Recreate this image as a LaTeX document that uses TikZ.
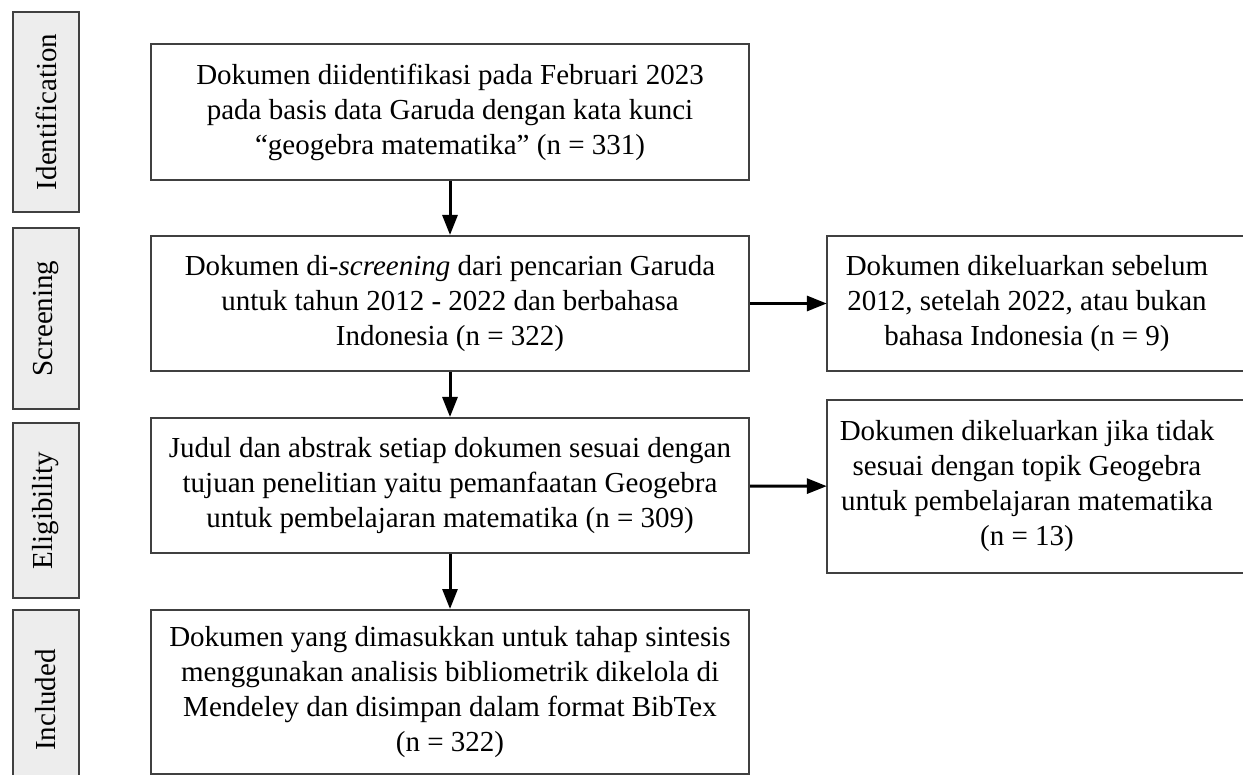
\documentclass[tikz,border=0pt]{standalone}
\usepackage{fontspec}
\setmainfont{Liberation Serif}
\usetikzlibrary{arrows.meta}
\definecolor{garis}{HTML}{404040}
\definecolor{abu}{HTML}{EDEDED}

\begin{document}
\begin{tikzpicture}[x=1pt, y=-1pt,
    teks/.style={font=\fontsize{29}{35}\selectfont},
    kotak/.style={teks, draw=garis, line width=2pt, minimum width=598pt, align=center, inner sep=0pt},
    keluar/.style={teks, minimum width=400pt, align=center, inner sep=0pt},
    bingkai/.style={draw=garis, line width=2pt},
    fase/.style={teks, draw=garis, fill=abu, line width=2pt, rotate=90, minimum height=66pt, inner sep=0pt},
    panah/.style={-{Triangle[length=20pt, width=15pt]}, line width=3pt}]
    \useasboundingbox (0,0) rectangle (1243,775);
    \clip (0,0) rectangle (1243,775);

    % Fase PRISMA
    \node[fase, minimum width=200pt] (faseId) at (46,112) {Identification};
    \node[fase, minimum width=181pt] (faseSc) at (46,318.5) {Screening};
    \node[fase, minimum width=175pt] (faseEl) at (46,510.5) {Eligibility};
    \node[fase, minimum width=180pt] (faseIn) at (46,700) {Included};

    % Kotak utama
    \node[kotak, minimum height=136pt] (dokA) at (450,112)
        {Dokumen diidentifikasi pada Februari 2023\\pada basis data Garuda dengan kata kunci\\``geogebra matematika'' (n = 331)};
    \node[kotak, minimum height=135pt] (dokB) at (450,303.5)
        {Dokumen di-\textit{screening} dari pencarian Garuda\\untuk tahun 2012 - 2022 dan berbahasa\\Indonesia (n = 322)};
    \node[kotak, minimum height=135pt] (dokC) at (450,485.5)
        {Judul dan abstrak setiap dokumen sesuai dengan\\tujuan penelitian yaitu pemanfaatan Geogebra\\untuk pembelajaran matematika (n = 309)};
    \node[kotak, minimum height=164pt] (dokD) at (450,692)
        {Dokumen yang dimasukkan untuk tahap sintesis\\menggunakan analisis bibliometrik dikelola di\\Mendeley dan disimpan dalam format BibTex\\(n = 322)};

    % Kotak dikeluarkan
    \node[keluar, minimum height=135pt] (keluarA) at (1027,303.5)
        {Dokumen dikeluarkan sebelum\\2012, setelah 2022, atau bukan\\bahasa Indonesia (n = 9)};
    \node[keluar, minimum height=173pt] (keluarB) at (1027,486.5)
        {Dokumen dikeluarkan jika tidak\\sesuai dengan topik Geogebra\\untuk pembelajaran matematika\\(n = 13)};
    \draw[bingkai] (keluarA.south west) rectangle ([xshift=60pt]keluarA.north east);
    \draw[bingkai] (keluarB.south west) rectangle ([xshift=60pt]keluarB.north east);

    % Panah
    \draw[panah] (dokA) -- (dokB);
    \draw[panah] (dokB) -- (dokC);
    \draw[panah] (dokC) -- (dokD);
    \draw[panah] (dokB) -- (keluarA);
    \draw[panah] (dokC) -- (keluarB);
\end{tikzpicture}
\end{document}
